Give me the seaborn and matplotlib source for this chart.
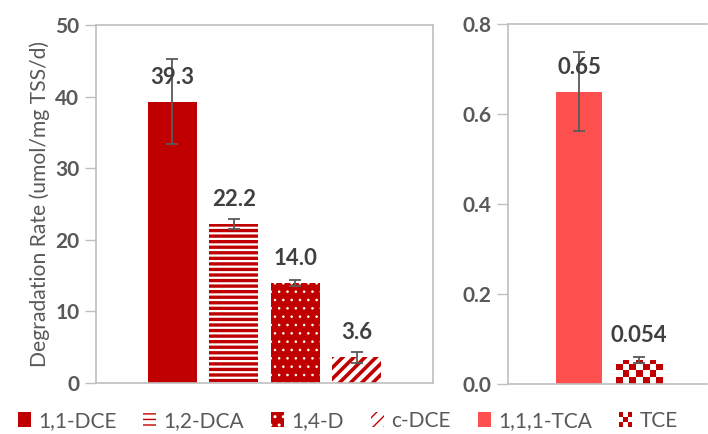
import numpy as np
import pandas as pd
import matplotlib
matplotlib.use("Agg")
import matplotlib.pyplot as plt
import matplotlib.patches as mpatches
from matplotlib.legend_handler import HandlerBase
import seaborn as sns

# Degradation rates (umol/mg TSS/d) with error bar half-widths
left_cats = ["1,1-DCE", "1,2-DCA", "1,4-D", "c-DCE"]
left_vals = [39.3, 22.2, 14.0, 3.6]
left_errs = [5.9, 0.7, 0.4, 0.75]
left_labels = ["39.3", "22.2", "14.0", "3.6"]

right_cats = ["1,1,1-TCA", "TCE"]
right_vals = [0.65, 0.054]
right_errs = [0.088, 0.007]
right_labels = ["0.65", "0.054"]

left_ticks = [0, 10, 20, 30, 40, 50]
right_ticks = [0.0, 0.2, 0.4, 0.6, 0.8]

DARK = "#C00000"
LIGHT = "#FF5050"
TEXT = "#595959"
LABEL = "#404040"
GRID = "#BFBFBF"

sns.set_theme(style="white")
plt.rcParams["font.family"] = ["Lato", "DejaVu Sans"]

fig = plt.figure(figsize=(7.08, 4.34), dpi=100)
axL = fig.add_axes([0.1356, 0.1175, 0.476, 0.8249])
axR = fig.add_axes([0.7175, 0.1152, 0.2811, 0.8295])

# (face, hatch colour, hatch, hatch width)
left_styles = [
    (DARK, DARK, "", 0),
    ("white", DARK, "---", 2.4),
    (DARK, "white", "..", 0.6),
    ("white", DARK, "///", 2.6),
]
right_styles = [
    (LIGHT, LIGHT, "", 0),
    ("white", DARK, "", 0),
]


def draw_panel(ax, cats, vals, errs, labels, styles, width, ylim, ticks, fmt, xlim):
    df = pd.DataFrame({"cat": cats, "val": vals})
    sns.barplot(data=df, x="cat", y="val", hue="cat", legend=False,
                palette=[s[0] for s in styles], width=width,
                errorbar=None, ax=ax, saturation=1)
    bars = ax.patches[:len(cats)]
    for bar, (face, hcol, hatch, hlw) in zip(bars, styles):
        bar.set_facecolor(face)
        bar.set_edgecolor(hcol)
        bar.set_linewidth(0)
        if hatch:
            bar.set_hatch(hatch)
            if hasattr(bar, "set_hatch_linewidth"):
                bar.set_hatch_linewidth(hlw)
    centers = [b.get_x() + b.get_width() / 2 for b in bars]
    ax.errorbar(centers, vals, yerr=errs, fmt="none", ecolor=TEXT,
                elinewidth=1.3, capsize=4, capthick=1.3, zorder=5)
    for c, v, lab in zip(centers, vals, labels):
        ax.annotate(lab, (c, v), xytext=(0, 17.5), textcoords="offset points",
                    ha="center", va="center", fontsize=16,
                    fontweight="bold", color=LABEL, zorder=6)
    ax.set_ylim(*ylim)
    ax.set_xlim(*xlim)
    ax.set_yticks(ticks)
    ax.set_yticklabels([fmt.format(t) for t in ticks], fontsize=15,
                       fontweight="bold", color=TEXT)
    ax.tick_params(axis="y", length=8, width=1, color=GRID, left=True, pad=4)
    ax.tick_params(axis="x", length=0)
    ax.set_xticks([])
    ax.set_xlabel("")
    ax.set_ylabel("")
    for sp in ax.spines.values():
        sp.set_visible(True)
        sp.set_color(GRID)
        sp.set_linewidth(1.2)
    return bars


draw_panel(axL, left_cats, left_vals, left_errs, left_labels, left_styles,
           0.8, (0, 50), left_ticks, "{:.0f}", (-1.24, 4.24))
barsR = draw_panel(axR, right_cats, right_vals, right_errs, right_labels,
                   right_styles, 0.77, (0, 0.8), right_ticks, "{:.1f}",
                   (-1.18, 2.13))
axR.spines["right"].set_visible(False)

axL.set_ylabel("Degradation Rate (umol/mg TSS/d)", fontsize=15.2, color=TEXT,
               labelpad=4)

# Checkerboard fill for the TCE bar, clipped to the bar outline
tce = barsR[1]
fig.canvas.draw()
x0, w, h = tce.get_x(), tce.get_width(), tce.get_height()
p0 = axR.transData.transform((x0, 0))
p1 = axR.transData.transform((x0 + w, h))
cell = 6.6
nx = max(1, int(round((p1[0] - p0[0]) / cell)))
ny = int(np.ceil((p1[1] - p0[1]) / cell)) + 1
cell_y = cell / (axR.transData.transform((0, 1))[1] - axR.transData.transform((0, 0))[1])
checker = (np.add.outer(np.arange(ny), np.arange(nx)) % 2).astype(float)
cmap = matplotlib.colors.ListedColormap([DARK, "white"])
im = axR.imshow(checker, cmap=cmap, origin="lower", aspect="auto",
                extent=(x0, x0 + w, 0, ny * cell_y), interpolation="nearest",
                zorder=tce.get_zorder() + 0.1)
im.set_clip_path(tce)
axR.set_xlim(-1.18, 2.13)
axR.set_ylim(0, 0.8)


class CheckerHandler(HandlerBase):
    def create_artists(self, legend, orig_handle, xdescent, ydescent,
                       width, height, fontsize, trans):
        arts = []
        n = 3
        cw, ch = width / n, height / n
        for i in range(n):
            for j in range(n):
                col = DARK if (i + j) % 2 == 0 else "white"
                r = mpatches.Rectangle((-xdescent + i * cw, -ydescent + j * ch),
                                       cw, ch, facecolor=col, edgecolor="none",
                                       transform=trans)
                arts.append(r)
        return arts


handles = []
for (face, hcol, hatch, hlw) in left_styles + [right_styles[0]]:
    p = mpatches.Patch(facecolor=face, edgecolor=hcol, hatch=hatch or None,
                       linewidth=0)
    handles.append(p)
checker_handle = mpatches.Patch(facecolor="white")
handles.append(checker_handle)
labels_all = left_cats + right_cats

leg = fig.legend(handles, labels_all, loc="center left",
                 bbox_to_anchor=(0.025, 0.03), ncol=6, frameon=False,
                 fontsize=15, handlelength=0.62, handleheight=0.7,
                 handletextpad=0.35, columnspacing=1.3, borderpad=0,
                 borderaxespad=0,
                 handler_map={checker_handle: CheckerHandler()})
for t in leg.get_texts():
    t.set_color(TEXT)

fig.savefig("out.png", dpi=100)
